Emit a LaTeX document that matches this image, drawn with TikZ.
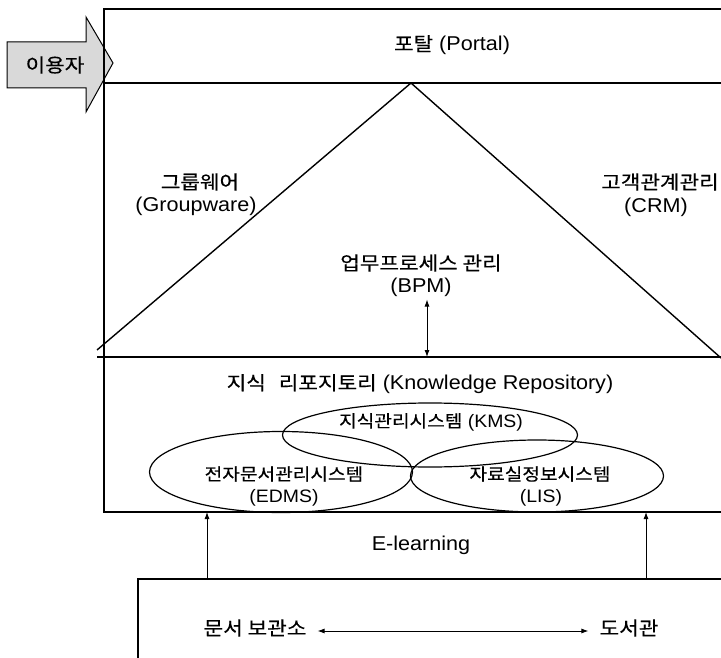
\documentclass[tikz,border=0pt]{standalone}
\usepackage{fontspec}
\setmainfont{Liberation Sans}[FakeStretch=1.08]
\newfontfamily\kr{Noto Sans CJK KR}[Scale=0.95,FakeStretch=1.12,FakeBold=0.4]
\usetikzlibrary{arrows.meta,shapes.geometric}
\newcommand{\K}[1]{{\kr #1}}
\begin{document}
\begin{tikzpicture}[x=1pt,y=-1pt,
  frame/.style={line width=1.4pt},
  big/.style={font=\fontsize{20}{24}\selectfont, inner sep=0pt},
  small/.style={font=\fontsize{18}{21}\selectfont, inner sep=0pt},
  arr/.style={-{Latex[length=7pt,width=5pt]}, line width=0.9pt},
  darr/.style={{Latex[length=7pt,width=5pt]}-{Latex[length=7pt,width=5pt]}, line width=0.9pt},
  ell/.style={draw, ellipse, line width=1.2pt, inner sep=0pt}]
\useasboundingbox (0,0) rectangle (721,658);
\clip (0,0) rectangle (721,658);
% user arrow
\draw[line width=1pt, fill=gray!30] (7,42) -- (86,42) -- (86,17) -- (113,63) -- (86,112) -- (86,88) -- (7,88) -- cycle;
\node[big] (user) at (55,65) {\K{이용자}};
% main frame
\coordinate (tl) at (104,9);
\coordinate (tr) at (721,9);
\coordinate (pl) at (104,83);
\coordinate (pr) at (721,83);
\coordinate (apex) at (411,83);
\coordinate (triL) at (97,350);
\coordinate (triR) at (721,358);
\coordinate (baseL) at (97,357);
\coordinate (baseR) at (721,357);
\coordinate (bl) at (104,512);
\coordinate (br) at (721,512);
\draw[frame] (tr) -- (tl) -- (bl) -- (br);
\draw[frame] (pl) -- (pr);
\draw[frame] (triL) -- (apex) -- (triR);
\draw[frame] (baseL) -- (baseR);
% bottom box
\coordinate (bbl) at (138,658);
\coordinate (bbt) at (138,579);
\coordinate (bbr) at (721,579);
\draw[frame] (bbl) -- (bbt) -- (bbr);
% texts
\node[big] (portal) at (452,45) {\K{포탈} (Portal)};
\node[big] (gw1) at (200,182) {\K{그룹웨어}};
\node[big] (gw2) at (196,206) {(Groupware)};
\node[big] (crm1) at (660,182) {\K{고객관계관리}};
\node[big] (crm2) at (656,207) {(CRM)};
\node[big] (bpm1) at (421,263) {\K{업무프로세스 관리}};
\node[big] (bpm2) at (421,287) {(BPM)};
\coordinate (bpmtip) at (427,357);
\draw[darr] ([xshift=6pt,yshift=-3pt]bpm2.south) -- (bpmtip);
\node[big] (repo) at (420,384) {\K{지식}\hspace{13pt}\K{리포지토리} (Knowledge Repository)};
% ellipses
\node[ell, minimum width=295pt, minimum height=64pt] (kms) at (430,435) {};
\node[ell, minimum width=263pt, minimum height=81pt] (edms) at (281,472) {};
\node[ell, minimum width=253pt, minimum height=72pt] (lis) at (537,476) {};
\node[small] (kmst) at (431,422) {\K{지식관리시스템} (KMS)};
\node[small] (edms1) at (284,474) {\K{전자문서관리시스템}};
\node[small] (edms2) at (284,498) {(EDMS)};
\node[small] (lis1) at (540,474) {\K{자료실정보시스템}};
\node[small] (lis2) at (541,498) {(LIS)};
% E-learning
\node[big] (elearn) at (421,545) {E-learning};
\coordinate (a1s) at (207,579);
\coordinate (a1e) at (207,512);
\coordinate (a2s) at (646,579);
\coordinate (a2e) at (646,512);
\draw[arr] (a1s) -- (a1e);
\draw[arr] (a2s) -- (a2e);
% bottom
\node[big] (archive) at (255,628) {\K{문서 보관소}};
\node[big] (library) at (629,628) {\K{도서관}};
\draw[darr, shorten <=11pt, shorten >=11pt] ([yshift=-3pt]archive.east) -- ([yshift=-3pt]library.west);
\end{tikzpicture}
\end{document}
